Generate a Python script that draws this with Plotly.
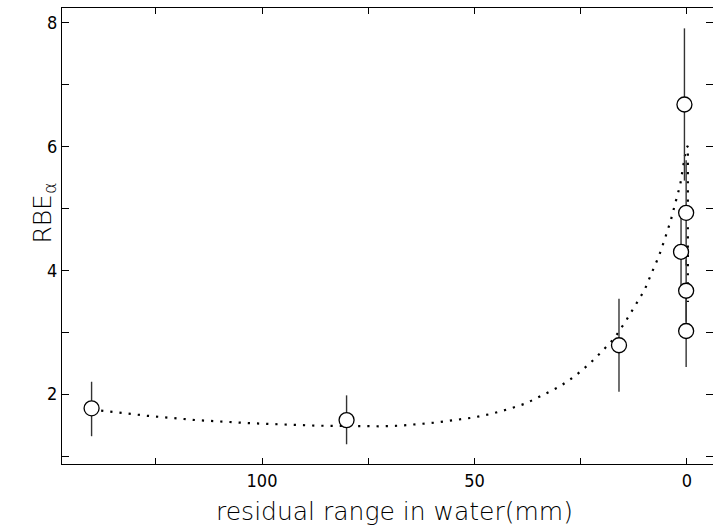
import plotly.graph_objects as go

# measured points: residual range (mm), RBE_alpha, error (plus / minus)
range_mm = [140.1, 80.1, 16.0, 0.6, 0.2, 1.4, 0.2, 0.2]
rbe = [1.77, 1.58, 2.79, 6.68, 4.93, 4.30, 3.67, 3.02]
err_plus = [0.43, 0.40, 0.75, 1.23, 0.85, 0.55, 0.50, 0.58]
err_minus = [0.45, 0.39, 0.75, 1.23, 0.85, 0.60, 0.50, 0.58]

# dotted model curve
curve_x = [140.0, 127.0, 115.4, 102.8, 87.1, 79.0, 72.0, 67.7, 63.4, 59.1, 54.8,
           50.4, 46.1, 41.9, 37.9, 33.9, 30.0, 26.4, 23.1, 20.0, 17.0, 14.4,
           12.2, 10.0, 8.3, 6.6, 5.2, 3.8, 2.7, 1.6, 0.9, 0.5, 0.2, -0.2, -0.2]
curve_y = [1.75, 1.65, 1.58, 1.53, 1.49, 1.48, 1.48, 1.49, 1.51, 1.54, 1.58,
           1.62, 1.68, 1.76, 1.85, 1.98, 2.12, 2.29, 2.48, 2.69, 2.91, 3.18,
           3.43, 3.68, 3.96, 4.23, 4.51, 4.81, 5.10, 5.38, 5.68, 5.84, 5.97, 6.01, 3.49]

x_ticks = [100, 50, 0]
y_ticks = [2, 4, 6, 8]
x_title = "residual range in water(mm)"
y_title = "RBE<sub>α</sub>"

TICKFONT = "DejaVu Sans Condensed, Liberation Sans Narrow, sans-serif"
TITLEFONT = "DejaVu Sans, sans-serif"

fig = go.Figure()
fig.add_trace(go.Scatter(
    x=curve_x, y=curve_y, mode="lines",
    line=dict(color="black", width=2.2, dash="2.2px,7px"),
    hoverinfo="skip", showlegend=False))
fig.add_trace(go.Scatter(
    x=range_mm, y=rbe, mode="markers",
    marker=dict(symbol="circle", size=15, color="white",
                line=dict(color="black", width=1.3)),
    error_y=dict(type="data", symmetric=False, array=err_plus,
                 arrayminus=err_minus, color="#333333", thickness=1.4, width=0),
    showlegend=False))

axis_common = dict(showline=True, linecolor="black", linewidth=1.2, mirror="allticks",
                   ticks="inside", tickcolor="black", tickwidth=1.2,
                   showgrid=False, zeroline=False,
                   tickfont=dict(family=TICKFONT, size=18, color="black", weight=300))

fig.update_xaxes(range=[147.06, -6.12], tickvals=x_ticks, ticklen=6,
                 minor=dict(dtick=25, tick0=0, ticks="inside", ticklen=6,
                            tickcolor="black", tickwidth=1.2),
                 **axis_common)
fig.update_yaxes(range=[0.871, 8.239], tickvals=y_ticks, ticklen=7,
                 minor=dict(dtick=1, tick0=0, ticks="inside", ticklen=7,
                            tickcolor="black", tickwidth=1.2),
                 **axis_common)

fig.add_annotation(text=x_title, xref="paper", yref="paper",
                   x=0.5106, y=-0.105, xanchor="center", yanchor="middle",
                   showarrow=False,
                   font=dict(family=TITLEFONT, size=25, color="black", weight=200))
fig.add_annotation(text=y_title, xref="paper", yref="paper",
                   x=-0.027, y=0.55, xanchor="center", yanchor="middle",
                   textangle=-90, showarrow=False,
                   font=dict(family=TITLEFONT, size=25, color="black", weight=200))

fig.update_layout(width=713, height=528, margin=dict(l=62, r=0, t=8, b=64),
                  plot_bgcolor="white", paper_bgcolor="white")

fig.write_html("out.html")
